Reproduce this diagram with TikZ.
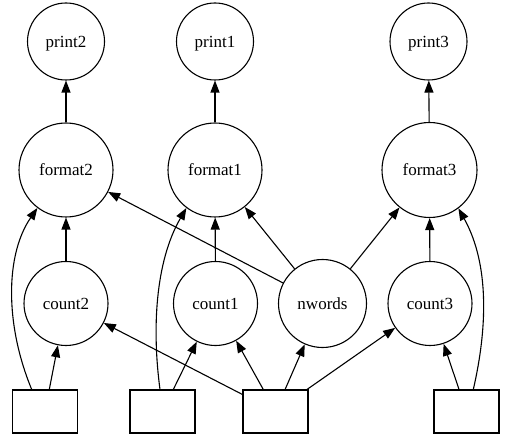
\documentclass[tikz,border=0pt]{standalone}
\usepackage{fontspec}
\setmainfont{Liberation Serif}
\usetikzlibrary{arrows.meta}
\begin{document}
\begin{tikzpicture}[x=1pt,y=-1pt,
  line width=1.1pt,
  lbl/.style={font=\fontsize{17}{20}\selectfont, text height=11.5pt, text depth=0pt, inner sep=0pt},
  circ/.style={lbl, draw, circle},
  box/.style={draw, rectangle, minimum width=65pt, minimum height=43pt, inner sep=0pt},
  arr/.style={-{Triangle[length=12pt,width=9pt]}}]
\useasboundingbox (0,0) rectangle (521,443);
% nodes
\node[circ, minimum size=77pt] (print2) at (66,41.5) {print2};
\node[circ, minimum size=77pt] (print1) at (215,41.5) {print1};
\node[circ, minimum size=77pt] (print3) at (428.5,41.5) {print3};
\node[circ, minimum size=94pt] (format2) at (66,170) {format2};
\node[circ, minimum size=94pt] (format1) at (215,170) {format1};
\node[circ, minimum size=95pt] (format3) at (429.5,170) {format3};
\node[circ, minimum size=84pt] (count2) at (66,303.5) {count2};
\node[circ, minimum size=84pt] (count1) at (215.5,303.5) {count1};
\node[circ, minimum size=88pt] (nwords) at (322.5,303.5) {nwords};
\node[circ, minimum size=84pt] (count3) at (430,303.5) {count3};
\node[box] (in1) at (45,411.5) {};
\node[box] (in2) at (162.5,411.5) {};
\node[box] (in3) at (275.5,411.5) {};
\node[box] (in4) at (466.5,411.5) {};
% edges
\draw[arr] (format2) -- (print2);
\draw[arr] (format1) -- (print1);
\draw[arr] (format3) -- (print3);
\draw[arr] (count2) -- (format2);
\draw[arr] (count1) -- (format1);
\draw[arr] (count3) -- (format3);
\draw[arr] (nwords) -- (format2);
\draw[arr] (nwords) -- (format1);
\draw[arr] (nwords) -- (format3);
\draw[arr] (in1) -- (count2);
\draw[arr] ([xshift=-13.3pt]in1.north) .. controls (5,325) and (5,255) .. (format2.233.6);
\draw[arr] (in2) -- (count1);
\draw[arr] ([xshift=-2.5pt]in2.north) .. controls (152,330) and (155,262) .. (format1.233.3);
\draw[arr] (in3) -- (count2);
\draw[arr] (in3) -- (count1);
\draw[arr] (in3) -- (nwords);
\draw[arr] (in3) -- (count3);
\draw[arr] (in4) -- (count3);
\draw[arr] ([xshift=6.8pt]in4.north) .. controls (487,330) and (490,265) .. (format3.-53.8);
\end{tikzpicture}
\end{document}
